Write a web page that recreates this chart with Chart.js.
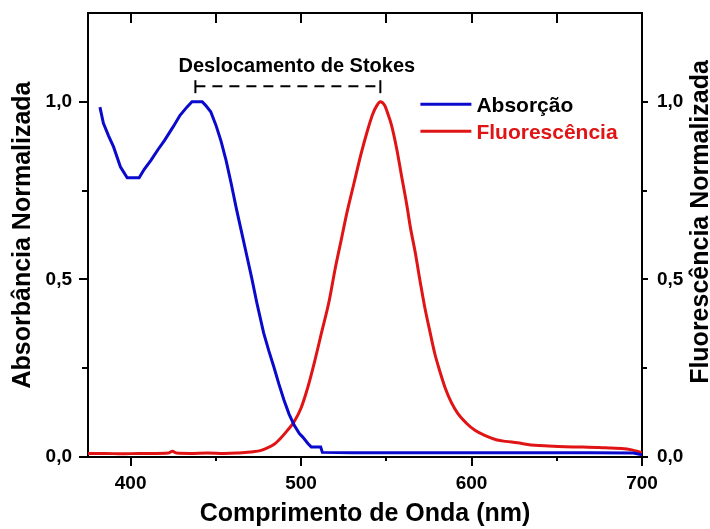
<!DOCTYPE html>
<html>
<head>
<meta charset="utf-8">
<script src="https://cdn.jsdelivr.net/npm/chart.js@4.4.1/dist/chart.umd.min.js"></script>
<style>
  html, body { margin: 0; padding: 0; background: #fff; }
  #wrap { width: 710px; height: 529px; }
</style>
</head>
<body>
<div id="wrap"><canvas id="spectra" width="710" height="529"></canvas></div>
<script>
// Absorption spectrum (normalised)
const absWavelength = [382, 384, 387, 390, 394, 398, 401, 405, 408, 412, 416, 420, 425, 429, 433, 436, 439, 442, 444, 447,
    450, 453, 456, 459, 462, 465, 468, 471, 474, 478, 481, 484, 487, 490, 493, 496, 499, 501, 504, 506,
    511.5, 512.5, 530, 560, 600, 640, 670, 695, 700];
const absValues = [0.985, 0.94, 0.905, 0.873, 0.817, 0.786, 0.786, 0.786, 0.81, 0.836, 0.865, 0.892, 0.93, 0.962, 0.985, 1.0, 1.0, 1.0, 0.99, 0.972,
    0.935, 0.89, 0.835, 0.77, 0.70, 0.635, 0.57, 0.505, 0.435, 0.35, 0.30, 0.254, 0.205, 0.16, 0.12, 0.089, 0.066, 0.056, 0.038, 0.028,
    0.028, 0.013, 0.012, 0.012, 0.012, 0.012, 0.012, 0.011, 0.006];

// Fluorescence spectrum (normalised)
const fluoWavelength = [375, 385, 395, 405, 415, 422, 424.5, 427, 435, 445, 455, 462, 467, 472, 476, 480, 484, 488, 492, 496,
    500, 504, 508, 512, 516.5, 520, 523.5, 527, 531, 535, 539, 542, 544.5, 546.5, 549, 551, 553, 556, 559, 562,
    564, 567, 570, 572.5, 575.5, 578.5, 581.5, 584.5, 588, 592, 597, 602, 608, 615, 620, 627, 632, 637, 645, 655,
    665, 675, 682, 688, 694, 698, 700];
const fluoValues = [0.01, 0.01, 0.009, 0.01, 0.01, 0.011, 0.016, 0.011, 0.01, 0.011, 0.01, 0.011, 0.013, 0.015, 0.018, 0.025, 0.035, 0.053, 0.075, 0.1,
    0.138, 0.197, 0.27, 0.35, 0.44, 0.53, 0.61, 0.69, 0.77, 0.85, 0.92, 0.965, 0.99, 1.0, 0.99, 0.965, 0.935, 0.87, 0.79, 0.71,
    0.65, 0.575, 0.49, 0.423, 0.355, 0.29, 0.24, 0.195, 0.155, 0.122, 0.095, 0.075, 0.06, 0.048, 0.044, 0.04, 0.036, 0.033, 0.031, 0.029,
    0.028, 0.027, 0.025, 0.024, 0.02, 0.015, 0.012];

const xTicks = [400, 500, 600, 700];
const xTickLabels = ['400', '500', '600', '700'];
const xMinorTicks = [450, 550, 650];
const yTicks = [0, 0.5, 1.0];
const yTickLabels = ['0,0', '0,5', '1,0'];
const yMinorTicks = [0.25, 0.75];

// Stokes shift: absorption max -> emission max
const stokesFrom = 438;
const stokesTo = 546.5;

const FONT = "'Liberation Sans', Arial, sans-serif";
const BLUE = '#0a0acc';
const RED = '#e01414';

Chart.defaults.font.family = FONT;
Chart.defaults.color = '#000';

const toPoints = (xs, ys) => xs.map((x, i) => ({ x: x, y: ys[i] }));

function line(ctx, x0, y0, x1, y1) {
    ctx.beginPath();
    ctx.moveTo(x0, y0);
    ctx.lineTo(x1, y1);
    ctx.stroke();
}

// keep the plot box where the reference has it
function noPad(s) {
    s.paddingTop = 0;
    s.paddingBottom = 0;
    s.paddingLeft = 0;
    s.paddingRight = 0;
}

// ticks on all four sides, legend, stokes bracket and right title
const extras = {
    id: 'extras',
    afterDraw(chart) {
        const ctx = chart.ctx;
        const { x, y, y2 } = chart.scales;
        const area = chart.chartArea;
        ctx.save();
        ctx.strokeStyle = '#000';
        ctx.lineWidth = 2;

        xTicks.forEach(v => {
            const px = Math.round(x.getPixelForValue(v));
            line(ctx, px, area.bottom, px, area.bottom + 9);
            line(ctx, px, area.top, px, area.top + 10);
        });
        xMinorTicks.forEach(v => {
            const px = Math.round(x.getPixelForValue(v));
            line(ctx, px, area.bottom, px, area.bottom + 4);
            line(ctx, px, area.top, px, area.top + 10);
        });
        yTicks.forEach(v => {
            const py = Math.round(y.getPixelForValue(v));
            line(ctx, area.left - 9, py, area.left, py);
            line(ctx, area.right, py, area.right + 6, py);
        });
        yMinorTicks.forEach(v => {
            const py = Math.round(y.getPixelForValue(v));
            line(ctx, area.left - 6, py, area.left, py);
            line(ctx, area.right, py, area.right + 5, py);
        });

        // Stokes shift bracket
        const sx0 = x.getPixelForValue(stokesFrom);
        const sx1 = x.getPixelForValue(stokesTo);
        const sy = y.getPixelForValue(1.044);
        line(ctx, sx0, sy - 6, sx0, sy + 7);
        line(ctx, sx1, sy - 6, sx1, sy + 7);
        ctx.setLineDash([10, 7]);
        line(ctx, sx0, sy, sx1, sy);
        ctx.setLineDash([]);

        ctx.fillStyle = '#000';
        ctx.font = 'bold 20px ' + FONT;
        ctx.textAlign = 'center';
        ctx.textBaseline = 'alphabetic';
        ctx.fillText('Deslocamento de Stokes', x.getPixelForValue(497.5), sy - 14);

        // legend
        const lx = x.getPixelForValue(570);
        let ly = y.getPixelForValue(0.993);
        ctx.font = 'bold 21px ' + FONT;
        ctx.textAlign = 'left';
        chart.data.datasets.forEach((ds, i) => {
            ctx.strokeStyle = ds.borderColor;
            ctx.lineWidth = 3;
            line(ctx, lx, ly, lx + 51, ly);
            ctx.fillStyle = i === 0 ? '#000' : ds.borderColor;
            ctx.fillText(ds.label, lx + 56, ly + 7.5);
            ly += 27;
        });

        // right axis title, reading bottom to top
        ctx.fillStyle = '#000';
        ctx.font = 'bold 25px ' + FONT;
        ctx.textAlign = 'center';
        ctx.textBaseline = 'middle';
        ctx.translate(y2.right - 9, (area.top + area.bottom) / 2 - 13);
        ctx.rotate(-Math.PI / 2);
        ctx.fillText('Fluorescência Normalizada', 0, 0);
        ctx.restore();
    }
};

const tickFont = { family: FONT, size: 19, weight: 'bold' };

new Chart(document.getElementById('spectra'), {
    type: 'line',
    data: {
        datasets: [{
            label: 'Absorção',
            data: toPoints(absWavelength, absValues),
            borderColor: BLUE,
            borderWidth: 3,
            pointRadius: 0,
            tension: 0,
            xAxisID: 'x',
            yAxisID: 'y'
        }, {
            label: 'Fluorescência',
            data: toPoints(fluoWavelength, fluoValues),
            borderColor: RED,
            borderWidth: 3,
            pointRadius: 0,
            cubicInterpolationMode: 'monotone',
            xAxisID: 'x',
            yAxisID: 'y'
        }]
    },
    options: {
        responsive: false,
        animation: false,
        layout: { padding: 0 },
        plugins: {
            legend: { display: false },
            tooltip: { enabled: false }
        },
        scales: {
            x: {
                type: 'linear',
                position: 'bottom',
                min: 375,
                max: 700,
                afterBuildTicks: s => { s.ticks = xTicks.map(v => ({ value: v })); },
                afterFit: s => { s.height = 72; noPad(s); },
                grid: { display: false, drawTicks: false },
                border: { display: true, color: '#000', width: 2 },
                ticks: { font: tickFont, color: '#000', padding: 15, maxRotation: 0, callback: (v, i) => xTickLabels[i] },
                title: {
                    display: true,
                    text: 'Comprimento de Onda (nm)',
                    color: '#000',
                    font: { family: FONT, size: 25, weight: 'bold' },
                    padding: { top: 0, bottom: 0 }
                }
            },
            x2: {
                type: 'linear',
                position: 'top',
                min: 375,
                max: 700,
                afterFit: s => { s.height = 13; noPad(s); },
                grid: { display: false, drawTicks: false },
                border: { display: true, color: '#000', width: 2 },
                ticks: { display: false }
            },
            y: {
                type: 'linear',
                position: 'left',
                min: 0,
                max: 1.25,
                afterBuildTicks: s => { s.ticks = yTicks.map(v => ({ value: v })); },
                afterFit: s => { s.width = 88; noPad(s); },
                grid: { display: false, drawTicks: false },
                border: { display: true, color: '#000', width: 2 },
                ticks: { font: tickFont, color: '#000', padding: 16, callback: (v, i) => yTickLabels[i] },
                title: {
                    display: true,
                    text: 'Absorbância Normalizada',
                    color: '#000',
                    font: { family: FONT, size: 25, weight: 'bold' },
                    padding: { top: 8, bottom: 0 }
                }
            },
            y2: {
                type: 'linear',
                position: 'right',
                min: 0,
                max: 1.25,
                afterBuildTicks: s => { s.ticks = yTicks.map(v => ({ value: v })); },
                afterFit: s => { s.width = 68; noPad(s); },
                grid: { display: false, drawTicks: false },
                border: { display: true, color: '#000', width: 2 },
                ticks: { font: tickFont, color: '#000', padding: 15, callback: (v, i) => yTickLabels[i] }
            }
        }
    },
    plugins: [extras]
});
</script>
</body>
</html>
